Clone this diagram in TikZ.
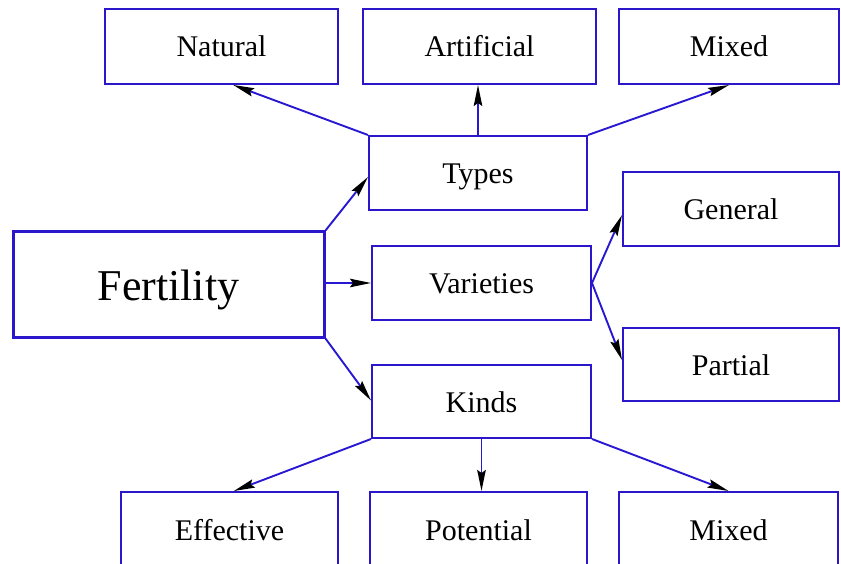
\documentclass[tikz,border=0pt]{standalone}
\usepackage{fontspec}
\setmainfont{Liberation Serif}
\usetikzlibrary{arrows.meta,calc}
\definecolor{boxblue}{RGB}{44,22,204}
\definecolor{lineblue}{RGB}{40,24,210}
\tikzset{
  box/.style={draw=boxblue, line width=2pt, rectangle, fill=white, inner sep=0pt,
    font=\fontsize{30}{36}\selectfont, text=black, text height=21pt, text depth=0pt},
  bigbox/.style={box, line width=3pt, font=\fontsize{44}{52}\selectfont, text height=31pt},
  conn/.style={draw=lineblue, line width=1.9pt,
    -{Stealth[black,length=21pt,width=8.5pt,inset=3pt]}}
}
\begin{document}
\begin{tikzpicture}[x=1pt,y=-1pt]
\useasboundingbox (0,0) rectangle (841,564);
\clip (0,0) rectangle (841,564);
% top row
\node[box, minimum width=233, minimum height=75] (nat) at (221.5,46.5) {Natural};
\node[box, minimum width=233, minimum height=75] (art) at (479.5,46.5) {Artificial};
\node[box, minimum width=220, minimum height=75] (mixt) at (729,46.5) {Mixed};
% middle column
\node[box, minimum width=218, minimum height=74] (types) at (478,173) {Types};
\node[box, minimum width=219, minimum height=74] (var) at (481.5,283) {Varieties};
\node[box, minimum width=219, minimum height=73] (kinds) at (481.5,401.5) {Kinds};
% right column
\node[box, minimum width=216, minimum height=74] (gen) at (731,209) {General};
\node[box, minimum width=216, minimum height=73] (part) at (731,364.5) {Partial};
% root
\node[bigbox, minimum width=311, minimum height=105] (fert) at (168.5,284.5) {Fertility};
% bottom row
\node[box, minimum width=217, minimum height=75] (eff) at (229.5,529.5) {Effective};
\node[box, minimum width=217, minimum height=75] (pot) at (478.5,529.5) {Potential};
\node[box, minimum width=219, minimum height=75] (mixb) at (728.5,529.5) {Mixed};
% connectors
\draw[conn] (types.north west) -- ($(nat.south west)!0.55!(nat.south east)$);
\draw[conn] (types.north) -- (types.north |- art.south);
\draw[conn] (types.north east) -- (mixt.south);
\draw[conn] (fert.north east) -- ($(types.west)+(0,4)$);
\draw[conn] (fert.east |- var.west) -- (var.west);
\draw[conn] (fert.south east) -- ($(kinds.west)+(0,-1)$);
\draw[conn] (var.east) -- ($(gen.north west)!0.58!(gen.south west)$);
\draw[conn] (var.east) -- ($(part.north west)!0.44!(part.south west)$);
\draw[conn] (kinds.south west) -- ($(eff.north west)!0.52!(eff.north east)$);
\draw[conn] (kinds.south) -- (kinds.south |- pot.north);
\draw[conn] (kinds.south east) -- (mixb.north);
\end{tikzpicture}
\end{document}
